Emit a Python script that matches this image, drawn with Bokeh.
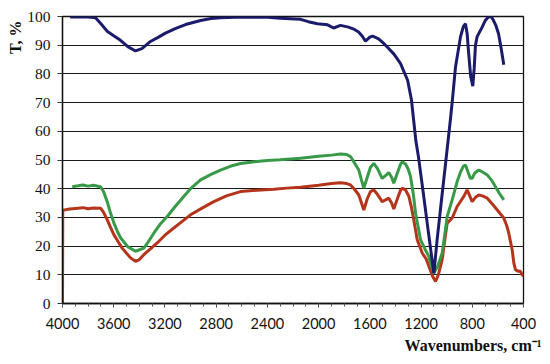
from bokeh.plotting import figure
from bokeh.models import Range1d, SingleIntervalTicker, Title
from bokeh.embed import file_html
from bokeh.resources import INLINE

navy_wn = [3940, 3860, 3800, 3742, 3700, 3649, 3600, 3547, 3490, 3430, 3380, 3313, 3250, 3196, 3120,
           3039, 2922, 2840, 2766, 2600, 2400, 2300, 2141, 2080, 2009, 1930, 1883, 1829, 1767, 1720,
           1688, 1660, 1634, 1600, 1579, 1532, 1500, 1462, 1410, 1360, 1305, 1275, 1257, 1240, 1220,
           1181, 1142, 1100, 1075, 1048, 1009, 970, 955, 931, 892, 870, 853, 840, 830, 812, 796, 785,
           775, 762, 723, 700, 671, 650, 634, 615, 595, 575, 554]
navy_t = [99.8, 99.8, 99.8, 99.6, 97.5, 94.8, 93.3, 91.7, 89.5, 88.0, 88.8, 91.3, 92.8, 94.2, 95.8,
          97.2, 98.6, 99.3, 99.6, 99.8, 99.7, 99.4, 99.0, 98.2, 97.5, 97.1, 96.0, 96.9, 96.3, 95.5,
          94.6, 93.2, 91.4, 92.8, 93.2, 92.2, 91.0, 89.3, 86.8, 83.6, 77.8, 71.0, 63.5, 56.5, 51.0,
          38.0, 24.6, 10.5, 22.0, 33.0, 48.6, 64.4, 71.0, 82.4, 92.9, 96.5, 97.5, 94.0, 88.0, 79.0, 75.7, 82.0,
          90.0, 93.0, 96.3, 98.5, 100.0, 99.8, 98.6, 96.8, 94.0, 89.0, 83.2]

green_wn = [3924, 3880, 3840, 3800, 3760, 3703, 3680, 3651, 3625, 3599, 3570, 3547, 3490, 3430, 3365,
            3330, 3287, 3240, 3182, 3120, 3053, 3000, 2922, 2840, 2766, 2690, 2610, 2500, 2401, 2300,
            2141, 2000, 1900, 1829, 1780, 1751, 1720, 1686, 1665, 1647, 1620, 1595, 1569, 1540, 1504,
            1480, 1452, 1430, 1413, 1385, 1360, 1347, 1320, 1300, 1282, 1260, 1243, 1204, 1170, 1139,
            1120, 1100, 1070, 1035, 1015, 996, 957, 918, 890, 870, 853, 835, 815, 801, 780, 749, 720,
            683, 650, 619, 590, 554]
green_t = [40.7, 41.0, 41.3, 40.9, 41.2, 40.7, 39.0, 35.5, 31.5, 28.1, 25.0, 22.9, 19.8, 18.2, 19.3,
           21.5, 24.5, 27.5, 30.3, 33.8, 37.3, 40.0, 43.1, 45.0, 46.5, 47.8, 48.8, 49.4, 49.8, 50.1,
           50.6, 51.3, 51.7, 52.1, 51.9, 51.2, 49.0, 46.5, 43.0, 40.2, 44.0, 47.5, 48.8, 47.0, 43.6,
           44.5, 45.6, 44.0, 41.9, 45.5, 48.5, 49.4, 48.5, 46.8, 44.2, 38.0, 31.5, 22.2, 19.0, 16.4,
           13.0, 10.6, 13.0, 17.6, 24.0, 30.3, 36.1, 42.5, 46.0, 47.8, 48.3, 46.0, 43.6, 43.6, 45.5, 46.5, 45.8,
           44.8, 43.0, 40.7, 38.5, 36.1]

red_wn = [4000, 3998, 3960, 3920, 3880, 3840, 3800, 3760, 3703, 3680, 3651, 3625, 3599, 3565, 3534,
          3500, 3469, 3430, 3400, 3365, 3320, 3261, 3200, 3131, 3060, 3000, 2900, 2818, 2720, 2610,
          2480, 2350, 2250, 2141, 2000, 1900, 1829, 1780, 1751, 1720, 1686, 1665, 1647, 1620, 1595,
          1569, 1540, 1504, 1480, 1452, 1430, 1413, 1385, 1360, 1347, 1320, 1295, 1275, 1257, 1230,
          1191, 1160, 1139, 1110, 1087, 1065, 1035, 1015, 996, 957, 918, 866, 840, 820, 801, 775, 749,
          720, 683, 640, 605, 554, 530, 515, 489, 475, 463, 440, 424, 410, 400]
red_t = [0.0, 32.5, 32.8, 33.0, 33.2, 33.4, 33.0, 33.3, 33.2, 31.8, 29.2, 26.5, 24.0, 21.5, 19.3,
         17.5, 15.9, 14.7, 15.3, 17.0, 18.8, 21.1, 23.8, 26.3, 28.8, 30.9, 33.5, 35.5, 37.5, 39.0,
         39.5, 39.8, 40.2, 40.5, 41.2, 41.8, 42.1, 41.8, 41.3, 39.8, 37.8, 35.0, 32.6, 36.5, 39.0,
         39.6, 38.0, 35.5, 36.0, 36.7, 35.0, 32.9, 36.5, 39.5, 40.2, 39.5, 37.3, 33.5, 29.2, 22.2,
         17.6, 15.5, 13.0, 9.5, 7.7, 10.0, 15.3, 22.0, 28.0, 29.8, 33.8, 37.3, 39.6, 37.5, 35.5, 37.0, 37.8,
         37.5, 36.7, 34.5, 32.6, 29.8, 27.0, 24.5, 18.8, 14.0, 11.8, 11.2, 11.2, 10.0, 9.5]

x_ticks_interval = 400
y_ticks_interval = 10

p = figure(width=542, height=356, output_backend="svg", toolbar_location=None,
           x_range=Range1d(4000, 400), y_range=Range1d(0, 100),
           min_border_left=62, min_border_right=19, min_border_top=16, min_border_bottom=52)

p.background_fill_color = "white"
p.border_fill_color = "white"
p.outline_line_color = "#111111"
p.outline_line_width = 1.3

p.xgrid.visible = False
p.ygrid.grid_line_color = "#1a1a1a"
p.ygrid.grid_line_width = 1.2
p.ygrid.ticker = SingleIntervalTicker(interval=y_ticks_interval)

p.xaxis.ticker = SingleIntervalTicker(interval=x_ticks_interval, num_minor_ticks=4)
p.yaxis.ticker = SingleIntervalTicker(interval=y_ticks_interval, num_minor_ticks=0)

for ax in (p.xaxis, p.yaxis):
    ax.axis_line_color = "#111111"
    ax.axis_line_width = 1.3
    ax.major_tick_line_color = "#333333"
    ax.minor_tick_line_color = "#555555"
    ax.major_tick_in = 0
    ax.minor_tick_in = 0
    ax.major_label_text_color = "#111111"

p.xaxis.major_tick_out = 4
p.xaxis.minor_tick_out = 3
p.xaxis.major_label_standoff = 10
p.xaxis.major_label_text_font = "Lato"
p.xaxis.major_label_text_font_size = "14.5px"

p.yaxis.major_tick_out = 5
p.yaxis.minor_tick_out = 0
p.yaxis.major_label_standoff = 7
p.yaxis.major_label_text_font = "Liberation Serif"
p.yaxis.major_label_text_font_size = "15.5px"

p.line(red_wn, red_t, line_color="#b5341c", line_width=3)
p.line(green_wn, green_t, line_color="#389a48", line_width=3)
p.line(navy_wn, navy_t, line_color="#1b1b6b", line_width=3)

xtitle = Title(text="Wavenumbers, cm\u207b\u00b9", align="right", offset=-18, standoff=6,
               text_font="Liberation Serif", text_font_style="bold",
               text_font_size="16px", text_color="#111111")
ytitle = Title(text="T, %", align="right", offset=4, standoff=2,
               text_font="Liberation Serif", text_font_style="bold",
               text_font_size="16px", text_color="#111111")
p.add_layout(xtitle, "below")
p.add_layout(ytitle, "left")

open("out.html", "w").write(file_html(p, INLINE))
